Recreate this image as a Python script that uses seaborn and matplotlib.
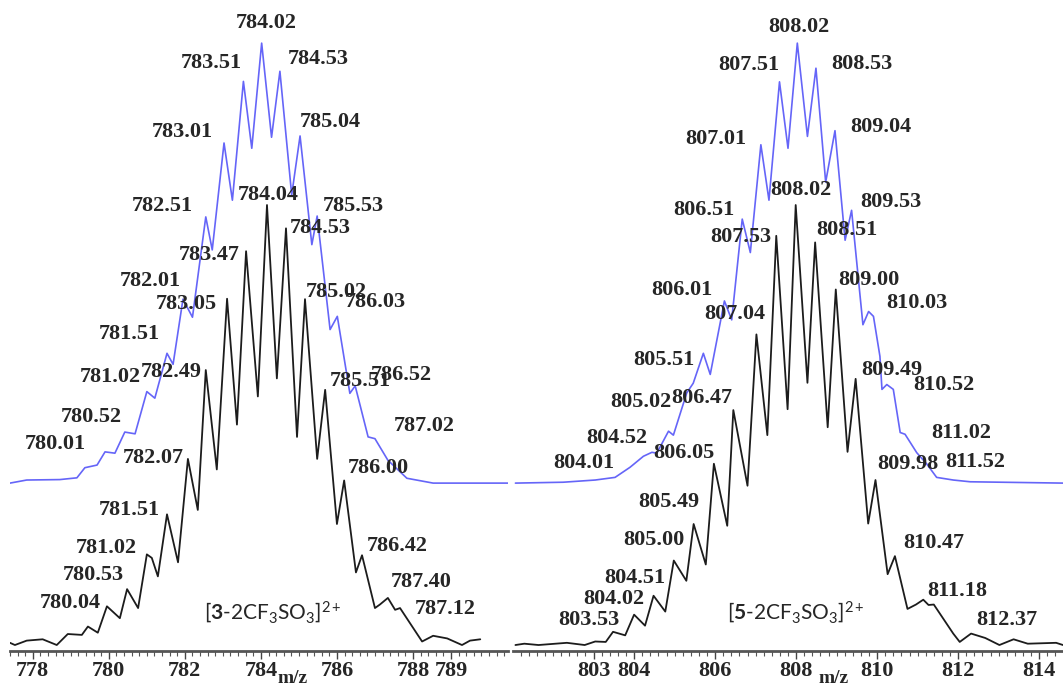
import numpy as np
import pandas as pd
import matplotlib
matplotlib.use('Agg')
import matplotlib.pyplot as plt
import seaborn as sns
from matplotlib.ticker import MultipleLocator

# ---------------- left spectrum: [3-2CF3SO3]2+ ----------------
# simulated isotope pattern (blue), relative intensity
blue_l_mz = [777.40, 777.84, 778.71, 779.16, 779.37, 779.69, 779.90, 780.16, 780.42, 780.69,
             781.00, 781.21, 781.53, 781.69, 781.95, 782.20, 782.55, 782.72, 783.03, 783.25,
             783.54, 783.76, 784.02, 784.28, 784.50, 784.81, 785.03, 785.34, 785.48, 785.82,
             786.01, 786.34, 786.48, 786.82, 787.00, 787.34, 787.84, 788.53, 790.50]
blue_l_int = [0, 0.7, 0.8, 1.2, 3.5, 4.1, 7.1, 6.8, 11.6, 11.2,
              20.8, 19.3, 29.5, 27.0, 41.8, 37.7, 60.5, 53.0, 77.3, 64.3,
              91.3, 76.1, 100, 78.6, 93.6, 65.5, 78.9, 54.2, 60.7, 34.9,
              37.9, 20.4, 22.1, 10.5, 10.1, 5.2, 1.1, 0, 0]

# experimental spectrum (black)
black_l_mz = [777.40, 777.53, 777.84, 778.26, 778.63, 778.92, 779.29, 779.45, 779.71, 779.95,
              780.29, 780.48, 780.77, 781.00, 781.13, 781.29, 781.53, 781.82, 782.08, 782.34,
              782.55, 782.84, 783.11, 783.37, 783.61, 783.92, 784.16, 784.42, 784.66, 784.95,
              785.16, 785.48, 785.69, 786.00, 786.19, 786.50, 786.66, 787.00, 787.13, 787.34,
              787.53, 787.66, 788.24, 788.53, 788.90, 789.29, 789.50, 789.77]
black_l_int = [0.5, 0, 1.0, 1.3, 0, 2.5, 2.3, 4.2, 2.8, 8.8,
               6.1, 12.7, 8.4, 20.6, 19.8, 15.6, 29.7, 18.8, 42.3, 30.7,
               62.5, 39.9, 78.7, 50.1, 89.5, 56.5, 100, 60.6, 94.7, 47.3,
               78.6, 42.3, 58.0, 27.5, 37.4, 16.5, 20.4, 8.4, 9.2, 10.7,
               8.0, 8.4, 0.8, 2.1, 1.5, 0, 1.0, 1.3]

peaks_l = ['784.02', '783.51', '784.53', '783.01', '785.04', '782.51', '785.53', '782.01',
           '786.03', '781.51', '781.02', '780.52', '780.01', '786.52', '787.02',
           '784.04', '784.53', '783.47', '783.05', '785.02', '782.49', '785.51', '782.07',
           '786.00', '781.51', '781.02', '786.42', '780.53', '787.40', '780.04', '787.12']
ticks_l = [778, 780, 782, 784, 786, 788, 789]

# ---------------- right spectrum: [5-2CF3SO3]2+ ----------------
blue_r_mz = [801.07, 802.25, 803.04, 803.53, 803.90, 804.23, 804.44, 804.56, 804.85, 804.97,
             805.30, 805.46, 805.71, 805.88, 806.23, 806.41, 806.67, 806.87, 807.13, 807.33,
             807.59, 807.80, 808.03, 808.28, 808.49, 808.73, 808.96, 809.21, 809.37, 809.65,
             809.79, 809.91, 810.07, 810.12, 810.24, 810.40, 810.57, 810.69, 810.98, 811.23,
             811.47, 811.88, 812.30, 814.59]
blue_r_int = [0, 0.2, 0.7, 1.3, 3.6, 6.1, 7.0, 6.8, 11.8, 10.9,
              20.5, 22.7, 29.5, 24.7, 41.4, 37.1, 60.0, 52.4, 76.9, 64.3,
              91.2, 76.1, 100, 78.8, 94.3, 68.4, 80.1, 55.2, 62.0, 36.0,
              39.0, 37.9, 28.8, 21.3, 22.4, 21.3, 11.5, 11.1, 6.9, 4.3,
              1.3, 0.7, 0.3, 0]

black_r_mz = [801.07, 801.29, 801.64, 802.34, 802.78, 803.04, 803.30, 803.48, 803.78, 804.00,
              804.27, 804.48, 804.77, 804.98, 805.29, 805.47, 805.77, 805.97, 806.30, 806.45,
              806.80, 807.02, 807.29, 807.51, 807.79, 807.99, 808.28, 808.47, 808.78, 808.98,
              809.27, 809.47, 809.78, 809.96, 810.26, 810.44, 810.75, 810.96, 811.14, 811.27,
              811.40, 811.88, 812.04, 812.32, 812.67, 813.02, 813.37, 813.72, 814.42, 814.59]
black_r_int = [0, 0.3, 0, 0.5, 0, 0.8, 0.7, 3.0, 2.2, 6.9,
               4.4, 11.2, 7.6, 19.2, 14.6, 27.5, 18.3, 41.2, 27.1, 53.4,
               36.2, 70.6, 47.7, 93.0, 53.6, 100, 59.6, 91.5, 49.5, 80.8,
               43.9, 60.5, 27.6, 37.5, 16.1, 20.2, 8.2, 9.2, 10.3, 9.1,
               9.2, 2.6, 0.7, 2.6, 1.6, 0, 1.3, 0.3, 0.5, 0]

peaks_r = ['808.02', '807.51', '808.53', '807.01', '809.04', '806.51', '809.53', '806.01',
           '810.03', '805.51', '805.02', '804.52', '804.01', '810.52', '811.02', '811.52',
           '808.02', '807.53', '808.51', '807.04', '809.00', '806.47', '809.49', '806.05',
           '809.98', '805.49', '810.47', '805.00', '804.51', '811.18', '804.02', '803.53',
           '812.37']
ticks_r = [803, 804, 806, 808, 810, 812, 814]

# ---------------- layout (label anchors in data units) ----------------
pos_l = [(784.14, 141.3), (782.70, 132.2), (785.50, 133.3), (781.92, 116.7), (785.82, 118.9),
         (781.41, 99.8), (786.43, 99.8), (781.09, 82.8), (787.01, 78.0), (780.55, 70.7),
         (780.03, 61.0), (779.53, 51.9), (778.60, 45.7), (787.70, 61.4), (788.30, 49.8),
         (784.18, 102.3), (785.55, 94.7), (782.63, 88.6), (782.05, 77.5), (785.98, 80.3),
         (781.65, 62.1), (786.61, 60.0), (781.17, 42.4), (787.08, 40.2), (780.55, 30.8),
         (779.94, 22.1), (787.58, 22.5), (779.60, 15.9), (788.21, 14.4), (778.98, 9.6),
         (788.86, 8.1)]
pos_r = [(808.07, 140.5), (806.83, 131.8), (809.62, 132.0), (806.01, 114.9), (810.09, 117.7),
         (805.72, 98.9), (810.35, 100.8), (805.18, 80.7), (810.99, 77.7), (804.73, 64.8),
         (804.17, 55.3), (803.57, 47.0), (802.76, 41.3), (811.66, 59.1), (812.08, 48.3),
         (812.43, 41.7),
         (808.12, 103.4), (806.63, 92.7), (809.26, 94.3), (806.48, 75.2), (809.80, 83.0),
         (805.67, 56.1), (810.37, 62.5), (805.23, 43.6), (810.75, 41.1), (804.86, 32.6),
         (811.41, 23.3), (804.48, 23.9), (804.01, 15.2), (811.97, 12.3), (803.49, 10.4),
         (802.89, 5.7), (813.21, 5.7)]

sns.set_style('white')
plt.rcParams['font.family'] = ['Liberation Serif', 'DejaVu Serif']
plt.rcParams['mathtext.fontset'] = 'custom'
plt.rcParams['mathtext.rm'] = 'Lato'
plt.rcParams['mathtext.bf'] = 'Lato:bold'
plt.rcParams['mathtext.it'] = 'Lato:italic'

BLUE = '#6565f8'
BLACK = '#1c1c1c'
OFFSET = 36.8  # vertical shift of the simulated trace


def draw_panel(ax, bmz, bint, kmz, kint, xlim, ticks, peaks, pos, title, title_xy, mz_xy):
    sim = pd.DataFrame({'mz': bmz, 'y': np.array(bint) + OFFSET})
    exp = pd.DataFrame({'mz': kmz, 'y': kint})
    sns.lineplot(data=sim, x='mz', y='y', ax=ax, sort=False, estimator=None,
                 color=BLUE, linewidth=1.2)
    sns.lineplot(data=exp, x='mz', y='y', ax=ax, sort=False, estimator=None,
                 color=BLACK, linewidth=1.3)
    for txt, (x, y) in zip(peaks, pos):
        ax.text(x, y, txt, ha='center', va='center', fontsize=16, fontweight='bold')
    ax.text(title_xy[0], title_xy[1], title, ha='center', va='center',
            fontsize=15, family='Lato')
    ax.text(mz_xy[0], mz_xy[1], 'm/z', ha='center', va='center', fontsize=14,
            fontweight='bold', clip_on=False)

    ax.set_xlim(*xlim)
    ax.set_ylim(-1.36, 146.6)
    ax.set_xticks(ticks)
    ax.set_xticklabels([str(t) for t in ticks], fontsize=16, fontweight='bold')
    ax.xaxis.set_minor_locator(MultipleLocator(0.2))
    ax.tick_params(axis='x', which='major', direction='out', length=6, width=1,
                   color='#444444', pad=1.5, bottom=True)
    ax.tick_params(axis='x', which='minor', direction='out', length=3.5, width=0.8,
                   color='#555555', bottom=True)
    ax.set_yticks([])
    ax.set_xlabel('')
    ax.set_ylabel('')
    for s in ['top', 'left', 'right']:
        ax.spines[s].set_visible(False)
    ax.spines['bottom'].set_linewidth(2)
    ax.spines['bottom'].set_color('#555555')
    ax.patch.set_alpha(0)


fig = plt.figure(figsize=(10.63, 6.87), dpi=100)
ax1 = fig.add_axes([0.0094, 0.0524, 0.4685, 0.9476])
ax2 = fig.add_axes([0.4826, 0.0524, 0.5174, 0.9476])

draw_panel(ax1, blue_l_mz, blue_l_int, black_l_mz, black_l_int, (777.40, 790.50), ticks_l,
           peaks_l, pos_l, r'[$\mathbf{3}$-2CF$_3$SO$_3$]$^{2+}$', (784.32, 7.5), (784.84, -7.5))
draw_panel(ax2, blue_r_mz, blue_r_int, black_r_mz, black_r_int, (801.01, 814.59), ticks_r,
           peaks_r, pos_r, r'[$\mathbf{5}$-2CF$_3$SO$_3$]$^{2+}$', (808.0, 7.5), (808.93, -7.5))

fig.savefig('out.png', dpi=100)
